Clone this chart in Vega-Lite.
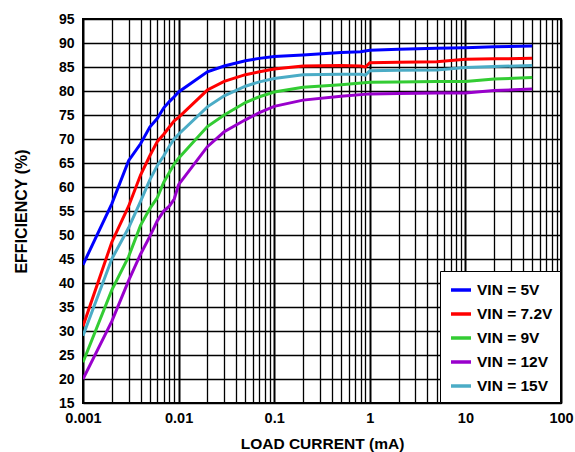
{
  "$schema": "https://vega.github.io/schema/vega-lite/v6.json",
  "width": 478,
  "height": 384,
  "autosize": {"type": "none"},
  "padding": {"left": 83, "top": 19, "right": 14, "bottom": 49},
  "background": "white",
  "config": {
    "font": "Liberation Sans",
    "view": {"stroke": "black", "strokeWidth": 2}
  },
  "data": {
    "values": [
      {"current": 0.001, "eff": 43.8, "series": "VIN = 5V"},
      {"current": 0.002, "eff": 56.5, "series": "VIN = 5V"},
      {"current": 0.003, "eff": 65.5, "series": "VIN = 5V"},
      {"current": 0.004, "eff": 69.0, "series": "VIN = 5V"},
      {"current": 0.005, "eff": 72.5, "series": "VIN = 5V"},
      {"current": 0.006, "eff": 74.3, "series": "VIN = 5V"},
      {"current": 0.007, "eff": 76.5, "series": "VIN = 5V"},
      {"current": 0.008, "eff": 77.8, "series": "VIN = 5V"},
      {"current": 0.009, "eff": 78.8, "series": "VIN = 5V"},
      {"current": 0.01, "eff": 79.8, "series": "VIN = 5V"},
      {"current": 0.02, "eff": 84.0, "series": "VIN = 5V"},
      {"current": 0.03, "eff": 85.2, "series": "VIN = 5V"},
      {"current": 0.05, "eff": 86.3, "series": "VIN = 5V"},
      {"current": 0.07, "eff": 86.8, "series": "VIN = 5V"},
      {"current": 0.1, "eff": 87.2, "series": "VIN = 5V"},
      {"current": 0.2, "eff": 87.5, "series": "VIN = 5V"},
      {"current": 0.5, "eff": 88.0, "series": "VIN = 5V"},
      {"current": 0.8, "eff": 88.2, "series": "VIN = 5V"},
      {"current": 1, "eff": 88.5, "series": "VIN = 5V"},
      {"current": 2, "eff": 88.7, "series": "VIN = 5V"},
      {"current": 5, "eff": 88.9, "series": "VIN = 5V"},
      {"current": 10, "eff": 89.0, "series": "VIN = 5V"},
      {"current": 20, "eff": 89.2, "series": "VIN = 5V"},
      {"current": 50, "eff": 89.4, "series": "VIN = 5V"},

      {"current": 0.001, "eff": 31.0, "series": "VIN = 7.2V"},
      {"current": 0.002, "eff": 48.5, "series": "VIN = 7.2V"},
      {"current": 0.003, "eff": 56.0, "series": "VIN = 7.2V"},
      {"current": 0.004, "eff": 62.5, "series": "VIN = 7.2V"},
      {"current": 0.005, "eff": 66.5, "series": "VIN = 7.2V"},
      {"current": 0.006, "eff": 69.5, "series": "VIN = 7.2V"},
      {"current": 0.007, "eff": 71.0, "series": "VIN = 7.2V"},
      {"current": 0.008, "eff": 72.5, "series": "VIN = 7.2V"},
      {"current": 0.009, "eff": 73.8, "series": "VIN = 7.2V"},
      {"current": 0.01, "eff": 74.5, "series": "VIN = 7.2V"},
      {"current": 0.02, "eff": 80.2, "series": "VIN = 7.2V"},
      {"current": 0.03, "eff": 82.0, "series": "VIN = 7.2V"},
      {"current": 0.05, "eff": 83.4, "series": "VIN = 7.2V"},
      {"current": 0.07, "eff": 84.0, "series": "VIN = 7.2V"},
      {"current": 0.1, "eff": 84.6, "series": "VIN = 7.2V"},
      {"current": 0.2, "eff": 85.2, "series": "VIN = 7.2V"},
      {"current": 0.5, "eff": 85.3, "series": "VIN = 7.2V"},
      {"current": 0.8, "eff": 85.2, "series": "VIN = 7.2V"},
      {"current": 0.9, "eff": 85.0, "series": "VIN = 7.2V"},
      {"current": 1, "eff": 85.9, "series": "VIN = 7.2V"},
      {"current": 2, "eff": 86.0, "series": "VIN = 7.2V"},
      {"current": 5, "eff": 86.1, "series": "VIN = 7.2V"},
      {"current": 10, "eff": 86.6, "series": "VIN = 7.2V"},
      {"current": 20, "eff": 86.7, "series": "VIN = 7.2V"},
      {"current": 50, "eff": 86.8, "series": "VIN = 7.2V"},

      {"current": 0.001, "eff": 23.5, "series": "VIN = 9V"},
      {"current": 0.002, "eff": 38.5, "series": "VIN = 9V"},
      {"current": 0.003, "eff": 45.5, "series": "VIN = 9V"},
      {"current": 0.004, "eff": 52.0, "series": "VIN = 9V"},
      {"current": 0.005, "eff": 55.5, "series": "VIN = 9V"},
      {"current": 0.006, "eff": 57.8, "series": "VIN = 9V"},
      {"current": 0.007, "eff": 61.0, "series": "VIN = 9V"},
      {"current": 0.008, "eff": 63.0, "series": "VIN = 9V"},
      {"current": 0.009, "eff": 64.8, "series": "VIN = 9V"},
      {"current": 0.01, "eff": 66.0, "series": "VIN = 9V"},
      {"current": 0.02, "eff": 72.6, "series": "VIN = 9V"},
      {"current": 0.03, "eff": 75.0, "series": "VIN = 9V"},
      {"current": 0.05, "eff": 77.6, "series": "VIN = 9V"},
      {"current": 0.07, "eff": 78.8, "series": "VIN = 9V"},
      {"current": 0.1, "eff": 79.8, "series": "VIN = 9V"},
      {"current": 0.2, "eff": 80.8, "series": "VIN = 9V"},
      {"current": 0.5, "eff": 81.3, "series": "VIN = 9V"},
      {"current": 1, "eff": 81.8, "series": "VIN = 9V"},
      {"current": 2, "eff": 81.9, "series": "VIN = 9V"},
      {"current": 5, "eff": 82.0, "series": "VIN = 9V"},
      {"current": 10, "eff": 82.0, "series": "VIN = 9V"},
      {"current": 20, "eff": 82.5, "series": "VIN = 9V"},
      {"current": 50, "eff": 82.8, "series": "VIN = 9V"},

      {"current": 0.001, "eff": 20.0, "series": "VIN = 12V"},
      {"current": 0.002, "eff": 32.0, "series": "VIN = 12V"},
      {"current": 0.003, "eff": 40.5, "series": "VIN = 12V"},
      {"current": 0.004, "eff": 46.0, "series": "VIN = 12V"},
      {"current": 0.005, "eff": 49.7, "series": "VIN = 12V"},
      {"current": 0.006, "eff": 53.0, "series": "VIN = 12V"},
      {"current": 0.007, "eff": 55.0, "series": "VIN = 12V"},
      {"current": 0.008, "eff": 56.0, "series": "VIN = 12V"},
      {"current": 0.009, "eff": 57.5, "series": "VIN = 12V"},
      {"current": 0.01, "eff": 60.5, "series": "VIN = 12V"},
      {"current": 0.02, "eff": 68.4, "series": "VIN = 12V"},
      {"current": 0.03, "eff": 71.5, "series": "VIN = 12V"},
      {"current": 0.05, "eff": 74.0, "series": "VIN = 12V"},
      {"current": 0.07, "eff": 75.5, "series": "VIN = 12V"},
      {"current": 0.1, "eff": 76.8, "series": "VIN = 12V"},
      {"current": 0.2, "eff": 78.1, "series": "VIN = 12V"},
      {"current": 0.5, "eff": 78.9, "series": "VIN = 12V"},
      {"current": 1, "eff": 79.4, "series": "VIN = 12V"},
      {"current": 2, "eff": 79.5, "series": "VIN = 12V"},
      {"current": 5, "eff": 79.6, "series": "VIN = 12V"},
      {"current": 10, "eff": 79.6, "series": "VIN = 12V"},
      {"current": 20, "eff": 80.1, "series": "VIN = 12V"},
      {"current": 50, "eff": 80.4, "series": "VIN = 12V"},

      {"current": 0.001, "eff": 29.0, "series": "VIN = 15V"},
      {"current": 0.002, "eff": 45.0, "series": "VIN = 15V"},
      {"current": 0.003, "eff": 51.5, "series": "VIN = 15V"},
      {"current": 0.004, "eff": 57.0, "series": "VIN = 15V"},
      {"current": 0.005, "eff": 61.5, "series": "VIN = 15V"},
      {"current": 0.006, "eff": 64.5, "series": "VIN = 15V"},
      {"current": 0.007, "eff": 66.5, "series": "VIN = 15V"},
      {"current": 0.008, "eff": 68.5, "series": "VIN = 15V"},
      {"current": 0.009, "eff": 70.0, "series": "VIN = 15V"},
      {"current": 0.01, "eff": 71.0, "series": "VIN = 15V"},
      {"current": 0.02, "eff": 76.7, "series": "VIN = 15V"},
      {"current": 0.03, "eff": 79.0, "series": "VIN = 15V"},
      {"current": 0.05, "eff": 81.0, "series": "VIN = 15V"},
      {"current": 0.07, "eff": 81.9, "series": "VIN = 15V"},
      {"current": 0.1, "eff": 82.6, "series": "VIN = 15V"},
      {"current": 0.2, "eff": 83.4, "series": "VIN = 15V"},
      {"current": 0.5, "eff": 83.5, "series": "VIN = 15V"},
      {"current": 0.8, "eff": 83.5, "series": "VIN = 15V"},
      {"current": 0.9, "eff": 83.3, "series": "VIN = 15V"},
      {"current": 1, "eff": 84.2, "series": "VIN = 15V"},
      {"current": 2, "eff": 84.3, "series": "VIN = 15V"},
      {"current": 5, "eff": 84.4, "series": "VIN = 15V"},
      {"current": 10, "eff": 84.9, "series": "VIN = 15V"},
      {"current": 20, "eff": 85.1, "series": "VIN = 15V"},
      {"current": 50, "eff": 85.3, "series": "VIN = 15V"}
    ]
  },
  "mark": {"type": "line", "strokeWidth": 3, "clip": true},
  "encoding": {
    "x": {
      "field": "current",
      "type": "quantitative",
      "scale": {"type": "log", "domain": [0.001, 100], "nice": false},
      "axis": {
        "title": "LOAD CURRENT (mA)",
        "titleFont": "Liberation Sans",
        "titleFontSize": 15.5,
        "titleFontWeight": "bold",
        "titleColor": "black",
        "titlePadding": 12,
        "values": [0.001, 0.002, 0.003, 0.004, 0.005, 0.006, 0.007, 0.008, 0.009,
                   0.01, 0.02, 0.03, 0.04, 0.05, 0.06, 0.07, 0.08, 0.09,
                   0.1, 0.2, 0.3, 0.4, 0.5, 0.6, 0.7, 0.8, 0.9,
                   1, 2, 3, 4, 5, 6, 7, 8, 9,
                   10, 20, 30, 40, 50, 60, 70, 80, 90, 100],
        "format": "~g",
        "labelExpr": "indexof(['0.001','0.01','0.1','1','10','100'], datum.label) >= 0 ? datum.label : ''",
        "labelOverlap": false,
        "labelFont": "Liberation Sans",
        "labelFontSize": 14.5,
        "labelFontWeight": "bold",
        "labelColor": "black",
        "labelPadding": 8,
        "labelFlush": false,
        "ticks": false,
        "domain": false,
        "grid": true,
        "gridColor": "black",
        "gridOpacity": 1,
        "gridWidth": {"condition": {"test": "indexof([0.001,0.01,0.1,1,10,100], datum.value) >= 0", "value": 2}, "value": 1.3}
      }
    },
    "y": {
      "field": "eff",
      "type": "quantitative",
      "scale": {"domain": [15, 95], "nice": false, "zero": false},
      "axis": {
        "title": "EFFICIENCY (%)",
        "titleFont": "Liberation Sans",
        "titleFontSize": 16,
        "titleFontWeight": "bold",
        "titleColor": "black",
        "titlePadding": 29,
        "values": [15, 20, 25, 30, 35, 40, 45, 50, 55, 60, 65, 70, 75, 80, 85, 90, 95],
        "labelFont": "Liberation Sans",
        "labelFontSize": 14,
        "labelFontWeight": "bold",
        "labelColor": "black",
        "labelPadding": 9,
        "ticks": false,
        "domain": false,
        "grid": true,
        "gridColor": "black",
        "gridOpacity": 1,
        "gridWidth": 1.5
      }
    },
    "color": {
      "field": "series",
      "type": "nominal",
      "scale": {
        "domain": ["VIN = 5V", "VIN = 7.2V", "VIN = 9V", "VIN = 12V", "VIN = 15V"],
        "range": ["#0000ff", "#ff0000", "#33cc33", "#9900cc", "#4bacc6"]
      },
      "legend": {
        "title": null,
        "orient": "bottom-right",
        "offset": 1,
        "fillColor": "white",
        "strokeColor": "black",
        "padding": 7,
        "symbolType": "stroke",
        "symbolStrokeWidth": 3.5,
        "symbolSize": 400,
        "symbolOffset": 2,
        "labelFont": "Liberation Sans",
        "labelFontSize": 15.5,
        "labelFontWeight": "bold",
        "labelColor": "black",
        "labelOffset": 4,
        "rowPadding": 3
      }
    }
  }
}
